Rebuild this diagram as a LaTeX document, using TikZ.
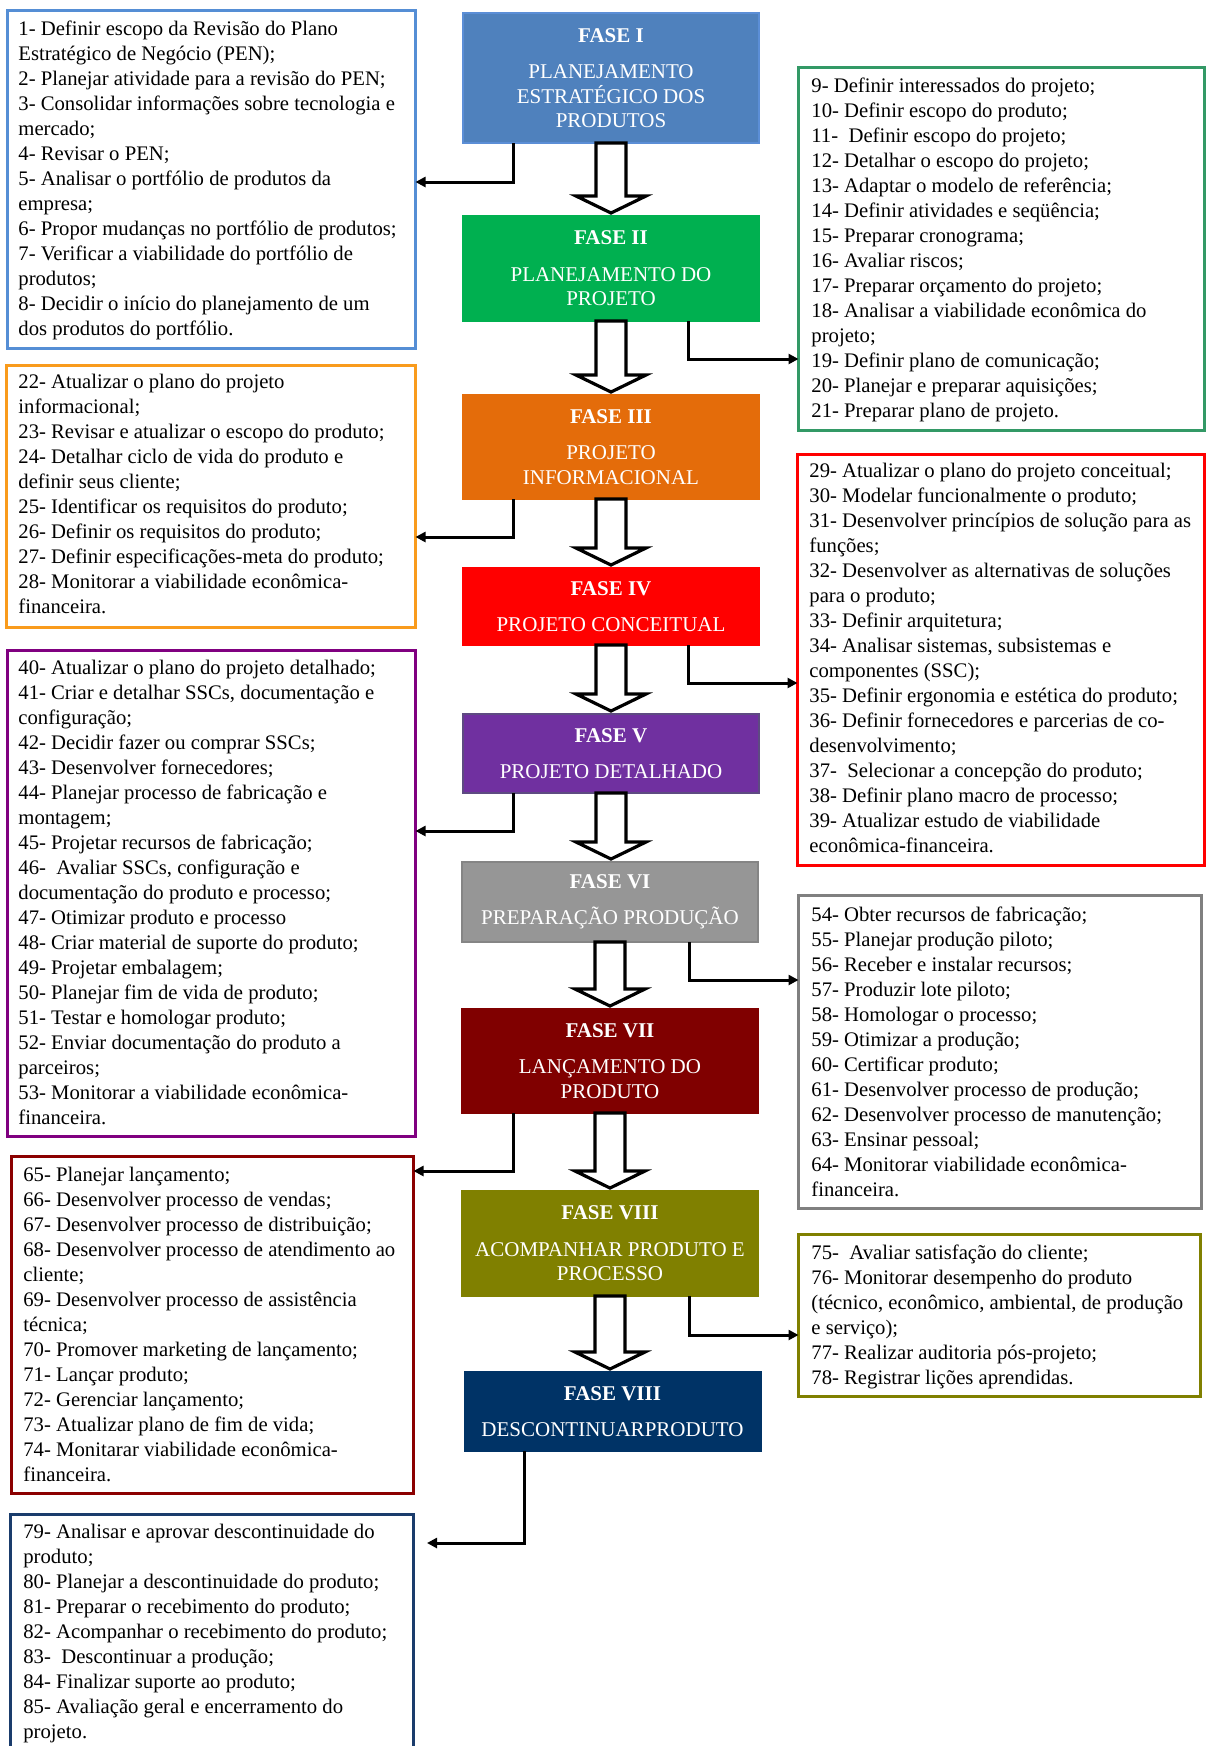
\documentclass[tikz,border=0pt]{standalone}
\usepackage{fontspec}
\setmainfont{Liberation Serif}
\usetikzlibrary{calc,arrows.meta}

% phase fills and outlines
\definecolor{faseI}{HTML}{4F81BD}
\definecolor{faseIline}{HTML}{5B8ED6}
\definecolor{faseII}{HTML}{00B050}
\definecolor{faseIII}{HTML}{E46C0A}
\definecolor{faseIV}{HTML}{FF0000}
\definecolor{faseV}{HTML}{7030A0}
\definecolor{faseVline}{HTML}{5E4A82}
\definecolor{faseVI}{HTML}{969696}
\definecolor{faseVIline}{HTML}{858585}
\definecolor{faseVII}{HTML}{800000}
\definecolor{faseVIII}{HTML}{808000}
\definecolor{faseIX}{HTML}{003366}
% activity list frames
\definecolor{lstI}{HTML}{558ED5}
\definecolor{lstII}{HTML}{339966}
\definecolor{lstIII}{HTML}{F99B1C}
\definecolor{lstIV}{HTML}{FF0000}
\definecolor{lstV}{HTML}{800080}
\definecolor{lstVI}{HTML}{808080}
\definecolor{lstVII}{HTML}{8B0000}
\definecolor{lstVIII}{HTML}{808000}
\definecolor{lstIX}{HTML}{1A3C6C}

% wide hollow arrow between two phases
\newcommand\hollowarrow[2]{%
  \draw[hollow] ($(#1.south)+(-15,0)$)
    -- ($(#1.south |- #2.north)+(-15,-20)$)
    -- ($(#1.south |- #2.north)+(-35,-20)$)
    -- ($(#1.south |- #2.north)+(0,-3)$)
    -- ($(#1.south |- #2.north)+(35,-20)$)
    -- ($(#1.south |- #2.north)+(15,-20)$)
    -- ($(#1.south)+(15,0)$) -- cycle;}

\begin{document}
\begin{tikzpicture}[x=0.5pt,y=-0.5pt,
  phase/.style={draw, line width=1pt, outer sep=0pt, inner sep=0pt,
    minimum width=148pt, text=white, align=center,
    font=\fontsize{10.5}{12.25}\selectfont},
  listbox/.style={draw, line width=1.5pt, outer sep=0pt, inner sep=0pt,
    anchor=north west, fill=white},
  listtext/.style={anchor=north west, inner sep=0pt, align=left,
    font=\fontsize{10.35}{12.5}\selectfont,
    execute at begin node={\rule{0pt}{10pt}}},
  conn/.style={line width=1.5pt, line join=miter,
    -{Triangle[length=5pt,width=5pt]}},
  hollow/.style={draw=black, fill=white, line width=1.6pt, line join=miter}]

\useasboundingbox (0,0) rectangle (1208,1746);
\clip (0,0) rectangle (1208,1746);
\fill[white] (0,0) rectangle (1208,1746);

% ---------- phases ----------
\node[phase, fill=faseI, draw=faseIline, minimum height=65pt] (p1) at (611,78)
  {\textbf{FASE I}\\[6pt]PLANEJAMENTO\\ESTRATÉGICO DOS\\PRODUTOS};
\node[phase, fill=faseII, draw=faseII, minimum height=52.5pt] (p2) at (611,268.5)
  {\textbf{FASE II}\\[6pt]PLANEJAMENTO DO\\PROJETO};
\node[phase, fill=faseIII, draw=faseIII, minimum height=52pt] (p3) at (611,447)
  {\textbf{FASE III}\\[6pt]PROJETO\\INFORMACIONAL};
\node[phase, fill=faseIV, draw=faseIV, minimum height=38.5pt] (p4) at (611,606.5)
  {\textbf{FASE IV}\\[6pt]PROJETO CONCEITUAL};
\node[phase, fill=faseV, draw=faseVline, minimum height=39.5pt] (p5) at (611,753.5)
  {\textbf{FASE V}\\[6pt]PROJETO DETALHADO};
\node[phase, fill=faseVI, draw=faseVIline, minimum height=40pt] (p6) at (610,902)
  {\textbf{FASE VI}\\[6pt]PREPARAÇÃO PRODUÇÃO};
\node[phase, fill=faseVII, draw=faseVII, minimum height=52pt] (p7) at (610,1061)
  {\textbf{FASE VII}\\[6pt]LANÇAMENTO DO\\PRODUTO};
\node[phase, fill=faseVIII, draw=faseVIII, minimum height=52.5pt] (p8) at (610,1243.5)
  {\textbf{FASE VIII}\\[6pt]ACOMPANHAR PRODUTO E\\PROCESSO};
\node[phase, fill=faseIX, draw=faseIX, minimum height=39.5pt] (p9) at (612.5,1411.5)
  {\textbf{FASE VIII}\\[6pt]DESCONTINUARPRODUTO};

\hollowarrow{p1}{p2}
\hollowarrow{p2}{p3}
\hollowarrow{p3}{p4}
\hollowarrow{p4}{p5}
\hollowarrow{p5}{p6}
\hollowarrow{p6}{p7}
\hollowarrow{p7}{p8}
\hollowarrow{p8}{p9}

% ---------- activity lists ----------
\node[listbox, draw=lstI, minimum width=204pt, minimum height=169pt] (b1) at (7.5,10.5) {};
\node[listtext] (t1) at (18,21) {1- Definir escopo da Revisão do Plano\\
Estratégico de Negócio (PEN);\\
2- Planejar atividade para a revisão do PEN;\\
3- Consolidar informações sobre tecnologia e\\
mercado;\\
4- Revisar o PEN;\\
5- Analisar o portfólio de produtos da\\
empresa;\\
6- Propor mudanças no portfólio de produtos;\\
7- Verificar a viabilidade do portfólio de\\
produtos;\\
8- Decidir o início do planejamento de um\\
dos produtos do portfólio.};

\node[listbox, draw=lstII, minimum width=203pt, minimum height=181.5pt] (b2) at (798.5,67.5) {};
\node[listtext] (t2) at (811,78) {9- Definir interessados do projeto;\\
10- Definir escopo do produto;\\
11-\ \ Definir escopo do projeto;\\
12- Detalhar o escopo do projeto;\\
13- Adaptar o modelo de referência;\\
14- Definir atividades e seqüência;\\
15- Preparar cronograma;\\
16- Avaliar riscos;\\
17- Preparar orçamento do projeto;\\
18- Analisar a viabilidade econômica do\\
projeto;\\
19- Definir plano de comunicação;\\
20- Planejar e preparar aquisições;\\
21- Preparar plano de projeto.};

\node[listbox, draw=lstIII, minimum width=204.5pt, minimum height=131pt] (b3) at (6.5,365.5) {};
\node[listtext] (t3) at (18,374) {22- Atualizar o plano do projeto\\
informacional;\\
23- Revisar e atualizar o escopo do produto;\\
24- Detalhar ciclo de vida do produto e\\
definir seus cliente;\\
25- Identificar os requisitos do produto;\\
26- Definir os requisitos do produto;\\
27- Definir especificações-meta do produto;\\
28- Monitorar a viabilidade econômica-\\
financeira.};

\node[listbox, draw=lstIV, minimum width=203.5pt, minimum height=205.5pt] (b4) at (797.5,454.5) {};
\node[listtext] (t4) at (809,463) {29- Atualizar o plano do projeto conceitual;\\
30- Modelar funcionalmente o produto;\\
31- Desenvolver princípios de solução para as\\
funções;\\
32- Desenvolver as alternativas de soluções\\
para o produto;\\
33- Definir arquitetura;\\
34- Analisar sistemas, subsistemas e\\
componentes (SSC);\\
35- Definir ergonomia e estética do produto;\\
36- Definir fornecedores e parcerias de co-\\
desenvolvimento;\\
37-\ \ Selecionar a concepção do produto;\\
38- Definir plano macro de processo;\\
39- Atualizar estudo de viabilidade\\
econômica-financeira.};

\node[listbox, draw=lstV, minimum width=204pt, minimum height=243pt] (b5) at (7.5,650.5) {};
\node[listtext] (t5) at (18,660) {40- Atualizar o plano do projeto detalhado;\\
41- Criar e detalhar SSCs, documentação e\\
configuração;\\
42- Decidir fazer ou comprar SSCs;\\
43- Desenvolver fornecedores;\\
44- Planejar processo de fabricação e\\
montagem;\\
45- Projetar recursos de fabricação;\\
46-\ \ Avaliar SSCs, configuração e\\
documentação do produto e processo;\\
47- Otimizar produto e processo\\
48- Criar material de suporte do produto;\\
49- Projetar embalagem;\\
50- Planejar fim de vida de produto;\\
51- Testar e homologar produto;\\
52- Enviar documentação do produto a\\
parceiros;\\
53- Monitorar a viabilidade econômica-\\
financeira.};

\node[listbox, draw=lstVI, minimum width=201.5pt, minimum height=156.5pt] (b6) at (798.5,895.5) {};
\node[listtext] (t6) at (811,907) {54- Obter recursos de fabricação;\\
55- Planejar produção piloto;\\
56- Receber e instalar recursos;\\
57- Produzir lote piloto;\\
58- Homologar o processo;\\
59- Otimizar a produção;\\
60- Certificar produto;\\
61- Desenvolver processo de produção;\\
62- Desenvolver processo de manutenção;\\
63- Ensinar pessoal;\\
64- Monitorar viabilidade econômica-\\
financeira.};

\node[listbox, draw=lstVII, minimum width=201pt, minimum height=168.5pt] (b7) at (11.5,1156.5) {};
\node[listtext] (t7) at (23,1167) {65- Planejar lançamento;\\
66- Desenvolver processo de vendas;\\
67- Desenvolver processo de distribuição;\\
68- Desenvolver processo de atendimento ao\\
cliente;\\
69- Desenvolver processo de assistência\\
técnica;\\
70- Promover marketing de lançamento;\\
71- Lançar produto;\\
72- Gerenciar lançamento;\\
73- Atualizar plano de fim de vida;\\
74- Monitarar viabilidade econômica-\\
financeira.};

\node[listbox, draw=lstVIII, minimum width=201pt, minimum height=81pt] (b8) at (798.5,1234.5) {};
\node[listtext] (t8) at (811,1245) {75-\ \ Avaliar satisfação do cliente;\\
76- Monitorar desempenho do produto\\
(técnico, econômico, ambiental, de produção\\
e serviço);\\
77- Realizar auditoria pós-projeto;\\
78- Registrar lições aprendidas.};

\node[listbox, draw=lstIX, minimum width=201.5pt, minimum height=127.75pt] (b9) at (10.5,1514.5) {};
\node[listtext] (t9) at (23,1524) {79- Analisar e aprovar descontinuidade do\\
produto;\\
80- Planejar a descontinuidade do produto;\\
81- Preparar o recebimento do produto;\\
82- Acompanhar o recebimento do produto;\\
83-\ \ Descontinuar a produção;\\
84- Finalizar suporte ao produto;\\
85- Avaliação geral e encerramento do\\
projeto.};

% ---------- elbow connectors from each phase to its list ----------
\draw[conn] ($(p1.south west)+(50,0)$)  |- ($(b1.north east)+(0,171.5)$);
\draw[conn] ($(p2.south west)+(225,0)$) |- ($(b2.north west)+(0,291.5)$);
\draw[conn] ($(p3.south west)+(50,0)$)  |- ($(b3.north east)+(0,171.5)$);
\draw[conn] ($(p4.south west)+(225,0)$) |- ($(b4.north west)+(0,228.5)$);
\draw[conn] ($(p5.south west)+(50,0)$)  |- ($(b5.north east)+(0,180.5)$);
\draw[conn] ($(p6.south west)+(227,0)$) |- ($(b6.north west)+(0,84.5)$);
\draw[conn] ($(p7.south west)+(51,0)$)  |- ($(b7.north east)+(0,14.5)$);
\draw[conn] ($(p8.south west)+(227,0)$) |- ($(b8.north west)+(0,100.5)$);
\coordinate (e9) at ($(b9.north east)+(13.5,28.5)$);
\draw[conn] ($(p9.south west)+(60,0)$)  |- (e9);

\end{tikzpicture}
\end{document}
